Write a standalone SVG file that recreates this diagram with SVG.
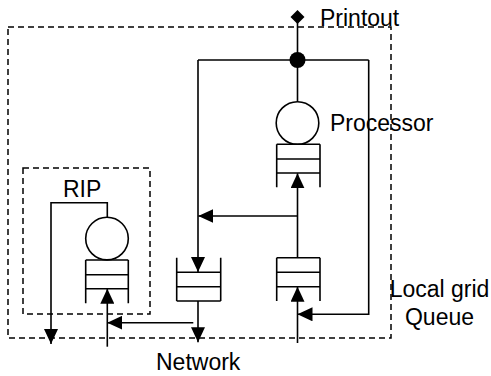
<svg xmlns="http://www.w3.org/2000/svg" width="491" height="376" viewBox="0 0 491 376">
  <style>
    .ln { fill: none; stroke: #000; stroke-width: 1.6; }
    .dash { fill: none; stroke: #000; stroke-width: 1.5; stroke-dasharray: 6 4; }
    .c { fill: #fff; stroke: #000; stroke-width: 1.6; }
    text { font-family: "Liberation Sans", Arial, sans-serif; font-size: 23px; fill: #000; }
  </style>
  <defs>
    <marker id="ah" markerUnits="userSpaceOnUse" markerWidth="16" markerHeight="14" refX="15" refY="7" orient="auto">
      <path d="M0,0 L15,7 L0,14 z" fill="#000"/>
    </marker>
  </defs>
  <rect width="491" height="376" fill="#fff"/>

  <g id="boundaries">
    <rect class="dash" x="8" y="27" width="383" height="311"/>
    <rect class="dash" x="23" y="168" width="127" height="146"/>
  </g>

  <g id="connectors">
    <line class="ln" x1="297.5" y1="60" x2="297.5" y2="17"/>
    <polygon points="297.5,10 304.5,17 297.5,24 290.5,17" fill="#000"/>
    <line class="ln" x1="297.5" y1="101.7" x2="297.5" y2="60"/>
    <line class="ln" x1="198" y1="60" x2="368.7" y2="60"/>
    <circle cx="297.5" cy="60" r="8" fill="#000"/>
    <polyline class="ln" points="198,60 198,272" marker-end="url(#ah)"/>
    <polyline class="ln" points="368.7,60 368.7,314.3 297.5,314.3" marker-end="url(#ah)"/>
    <line class="ln" x1="297.5" y1="257.7" x2="297.5" y2="173.3" marker-end="url(#ah)"/>
    <line class="ln" x1="297.5" y1="216" x2="198.3" y2="216" marker-end="url(#ah)"/>
    <line class="ln" x1="297.5" y1="343" x2="297.5" y2="286.7" marker-end="url(#ah)"/>
    <line class="ln" x1="198" y1="301" x2="198" y2="342.3" marker-end="url(#ah)"/>
    <line class="ln" x1="193.3" y1="322.7" x2="107.3" y2="322.7" marker-end="url(#ah)"/>
    <line class="ln" x1="107.3" y1="346.7" x2="107.3" y2="288.7" marker-end="url(#ah)"/>
    <polyline class="ln" points="107.3,217.3 107.3,202.7 51,202.7 51,344" marker-end="url(#ah)"/>
  </g>

  <g id="processor">
    <circle class="c" cx="297.5" cy="123" r="21.3"/>
    <path class="ln" d="M276.7,144.3 H320 M276.7,159 H320 M276.7,173 H320 M276.7,144.3 V187.3 M320,144.3 V187.3"/>
    <text x="330" y="131">Processor</text>
  </g>

  <g id="local-grid-queue">
    <path class="ln" d="M276.7,257.7 H320 M276.7,272.3 H320 M276.7,286.7 H320 M276.7,257.7 V301 M320,257.7 V301"/>
    <text x="439.5" y="297" text-anchor="middle">Local grid</text>
    <text x="439.5" y="325" text-anchor="middle">Queue</text>
  </g>

  <g id="network-queue">
    <path class="ln" d="M176.7,272.3 H220.7 M176.7,286.7 H220.7 M176.7,301 H220.7 M176.7,257.7 V301 M220.7,257.7 V301"/>
    <text x="156" y="370">Network</text>
  </g>

  <g id="rip">
    <circle class="c" cx="107" cy="238.6" r="21.3"/>
    <path class="ln" d="M85.7,260 H128.3 M85.7,274.7 H128.3 M85.7,288.7 H128.3 M85.7,260 V303.3 M128.3,260 V303.3"/>
    <text x="63" y="197">RIP</text>
  </g>

  <g id="printout">
    <text x="320" y="26">Printout</text>
  </g>
</svg>
